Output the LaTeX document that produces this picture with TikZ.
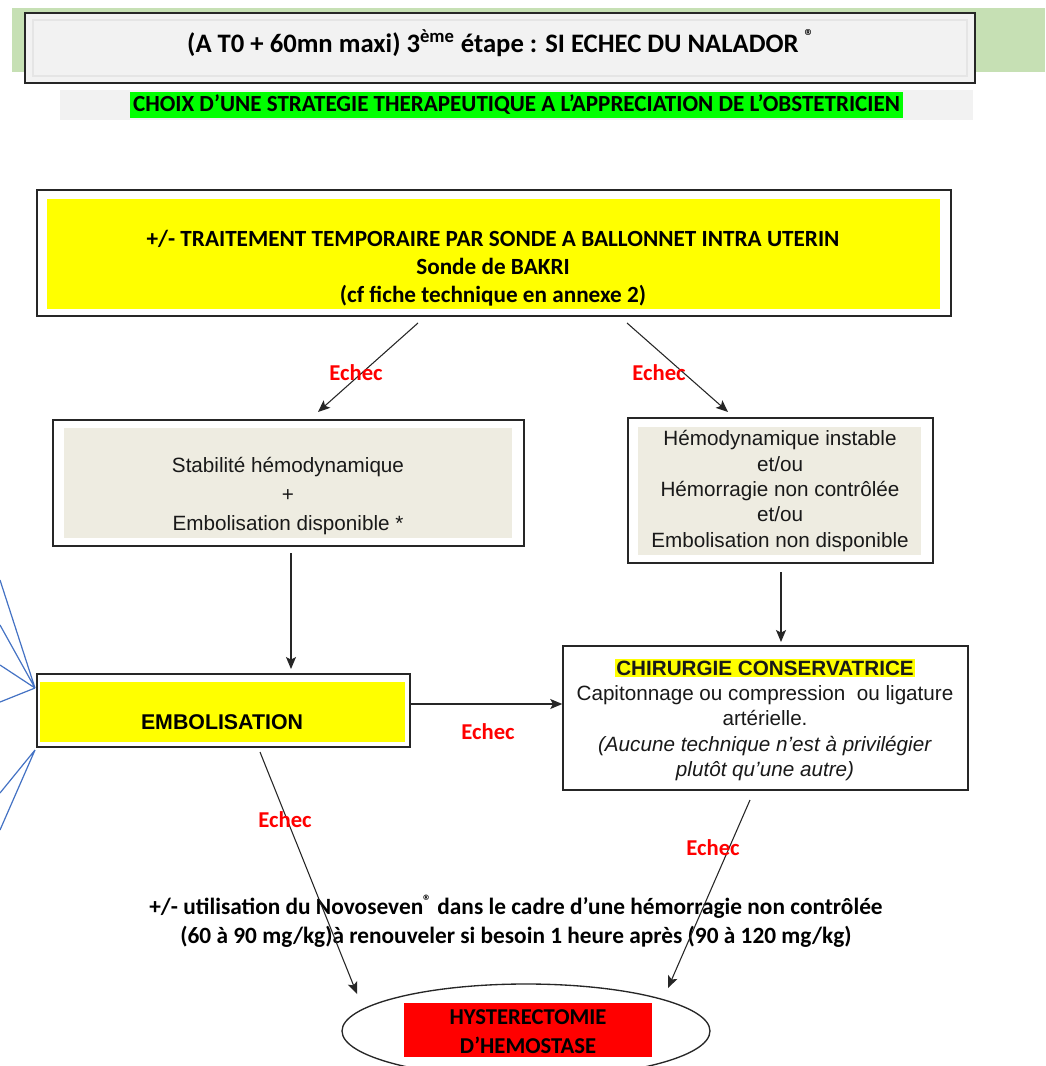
\documentclass[tikz,border=0pt]{standalone}
\usepackage{fontspec}
\setmainfont{Carlito}
\newfontfamily\arialfont{Liberation Sans}
\usetikzlibrary{arrows.meta,fit,shapes.geometric}
\definecolor{bandgreen}{RGB}{198,224,180}
\definecolor{titlegray}{RGB}{242,242,242}
\definecolor{hlgreen}{RGB}{0,255,0}
\definecolor{beige}{RGB}{238,236,225}
\definecolor{linkblue}{RGB}{68,114,196}
\definecolor{pureyellow}{RGB}{255,255,0}
\tikzset{
 framebox/.style={draw=black!85, line width=1.1pt, inner sep=0pt},
 arr/.style={draw=black!85, line width=0.8pt, -{Stealth[length=9pt,width=7.5pt,inset=2pt]}},
 echec/.style={text=red, font=\fontsize{17}{20}\selectfont\bfseries},
 calb/.style={font=\fontsize{17.4}{21}\selectfont\bfseries, align=center},
 arialtxt/.style={font=\arialfont\fontsize{15.5}{19}\selectfont, align=center, text=black!90},
 blueline/.style={draw=linkblue, line width=0.9pt},
}
\begin{document}
\begin{tikzpicture}[x=0.75pt,y=-0.75pt]
\useasboundingbox (0,0) rectangle (1045,1066);
\clip (0,0) rectangle (1045,1066);
\fill[white] (0,0) rectangle (1045,1066);
% header
\fill[bandgreen] (12,8) rectangle (1045,72);
\node[framebox, fill=titlegray, fit={(25,13) (975,83)}] (titlebox) {};
\draw[black!10, line width=1.5pt] (33,20) rectangle (967,76);
\node[font=\fontsize{20}{24}\selectfont\bfseries] (titletext) at (501,43) {(A T0 + 60mn maxi) 3\textsuperscript{ème} étape : SI ECHEC DU NALADOR \textsuperscript{®}};
\fill[titlegray] (60,90) rectangle (973,120);
\node[fill=hlgreen, inner sep=0pt, fit={(130,92) (903,118)}] (subhl) {};
\node[font=\fontsize{17.3}{19}\selectfont\bfseries] (subtext) at (subhl.center) {CHOIX D’UNE STRATEGIE THERAPEUTIQUE A L’APPRECIATION DE L’OBSTETRICIEN};
% Bakri
\node[framebox, fit={(37,190) (951,316)}] (bakri) {};
\fill[pureyellow] (47,199) rectangle (940,309);
\node[calb] (bakritext) at (493,268) {+/- TRAITEMENT TEMPORAIRE PAR SONDE A BALLONNET INTRA UTERIN\\Sonde de BAKRI\\(cf fiche technique en annexe 2)};
% stable
\node[framebox, fit={(53,420) (524,546)}] (stab) {};
\fill[beige] (64,428) rectangle (512,538);
\node[arialtxt, font=\arialfont\fontsize{15.5}{21.75}\selectfont] (stabtext) at (288,496) {Stabilité hémodynamique\\+\\Embolisation disponible *};
% unstable
\node[framebox, fit={(628,418) (933,563)}] (hemo) {};
\fill[beige] (638,427) rectangle (921,555);
\node[arialtxt] (hemotext) at (780,491) {Hémodynamique instable\\et/ou\\Hémorragie non contrôlée\\et/ou\\Embolisation non disponible};
% embolisation
\node[framebox, fit={(37,674) (410,747)}] (embo) {};
\fill[pureyellow] (40,682) rectangle (405,742);
\node[font=\arialfont\fontsize{16}{19}\selectfont\bfseries] (embotext) at (222,722) {EMBOLISATION};
% chirurgie
\node[framebox, fit={(563,646) (968,790)}] (chir) {};
\node[arialtxt] (chirtext) at (765,720) {{\setlength{\fboxsep}{1pt}\colorbox{pureyellow}{\bfseries CHIRURGIE CONSERVATRICE}}\\Capitonnage ou compression\ \ ou ligature\\artérielle.\\\textit{(Aucune technique n’est à privilégier}\\\textit{plutôt qu’une autre)}};
% hysterectomie
\node[draw=black!85, line width=1pt, ellipse, minimum width=276pt, minimum height=70.5pt, inner sep=0pt] (hyst) at (526,1031) {};
\node[fill=red, inner sep=0pt, fit={(404,1003) (652,1057)}] (hystred) {};
\node[calb, font=\fontsize{17}{21.75}\selectfont\bfseries] (hysttext) at (528,1032) {HYSTERECTOMIE\\D’HEMOSTASE};
% novoseven
\node[calb, font=\fontsize{17.5}{21.75}\selectfont\bfseries] (novo) at (516,921) {+/- utilisation du Novoseven\textsuperscript{®} dans le cadre d’une hémorragie non contrôlée\\(60 à 90 mg/kg)à renouveler si besoin 1 heure après (90 à 120 mg/kg)};
% connector coordinates
\coordinate (c1s) at (418,323); \coordinate (c1e) at (318,412);
\coordinate (c2s) at (627,323); \coordinate (c2e) at (728,412);
\coordinate (c3s) at (291,553); \coordinate (c3e) at (291,669);
\coordinate (c4s) at (781,572); \coordinate (c4e) at (781,642);
\coordinate (c5s) at (260,752); \coordinate (c5e) at (357,994);
\coordinate (c6s) at (750,800); \coordinate (c6e) at (668,988);
\draw[arr] (c1s) -- (c1e);
\draw[arr] (c2s) -- (c2e);
\draw[arr] (c3s) -- (c3e);
\draw[arr] (c4s) -- (c4e);
\draw[arr] (embo.east |- 0,704) -- (chir.west |- 0,704);
\draw[arr] (c5s) -- (c5e);
\draw[arr] (c6s) -- (c6e);
\node[echec] (e1) at (356,373) {Echec};
\node[echec] (e2) at (659,373) {Echec};
\node[echec] (e3) at (488,732) {Echec};
\node[echec] (e4) at (285,820) {Echec};
\node[echec] (e5) at (713,848) {Echec};
% blue lines
\coordinate (b1) at (35,688); \coordinate (b2) at (35,750);
\coordinate (l1) at (0,580); \coordinate (l2) at (0,625); \coordinate (l3) at (0,665); \coordinate (l4) at (0,702);
\coordinate (l5) at (0,793); \coordinate (l6) at (0,830);
\draw[blueline] (b1) -- (l1) (b1) -- (l2) (b1) -- (l3) (b1) -- (l4);
\draw[blueline] (b2) -- (l5) (b2) -- (l6);
\end{tikzpicture}
\end{document}
